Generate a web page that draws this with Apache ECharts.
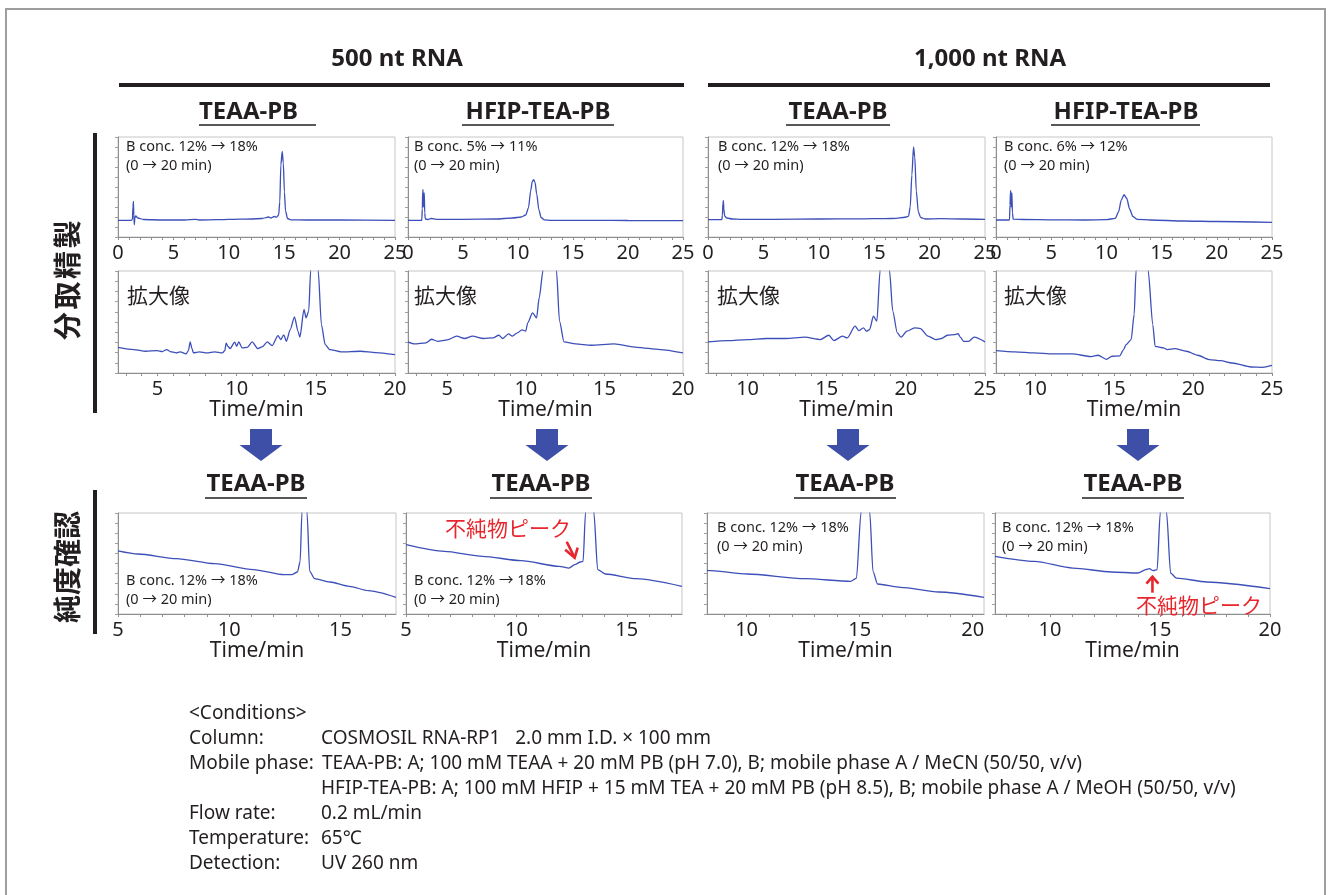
<!DOCTYPE html>
<html><head><meta charset="utf-8">
<script src="https://cdn.jsdelivr.net/npm/echarts@6/dist/echarts.min.js"></script>
<style>html,body{margin:0;padding:0;background:#fff}#c{width:1330px;height:895px}</style>
</head><body><div id="c"></div>
<script>
// ---------- titles / categories ----------
const sampleTitles = ['500 nt RNA', '1,000 nt RNA'];
const prepTitles = ['TEAA-PB', 'HFIP-TEA-PB', 'TEAA-PB', 'HFIP-TEA-PB'];
const purityTitles = ['TEAA-PB', 'TEAA-PB', 'TEAA-PB', 'TEAA-PB'];
const prepGradients = ['B conc. 12% \u2192 18%', 'B conc. 5% \u2192 11%', 'B conc. 12% \u2192 18%', 'B conc. 6% \u2192 12%'];
const purityGradient = 'B conc. 12% \u2192 18%';
const gradientTime = '(0 \u2192 20 min)';
const zoomLabel = '\u62e1\u5927\u50cf';
const impurityLabel = '\u4e0d\u7d14\u7269\u30d4\u30fc\u30af';
const rowLabels = ['\u5206\u53d6\u7cbe\u88fd', '\u7d14\u5ea6\u78ba\u8a8d'];
const conditionLines = [
  ['<Conditions>', ''],
  ['Column:', 'COSMOSIL RNA-RP1   2.0 mm I.D. \u00d7 100 mm'],
  ['Mobile phase:', 'TEAA-PB: A; 100 mM TEAA + 20 mM PB (pH 7.0), B; mobile phase A / MeCN (50/50, v/v)'],
  ['', 'HFIP-TEA-PB: A; 100 mM HFIP + 15 mM TEA + 20 mM PB (pH 8.5), B; mobile phase A / MeOH (50/50, v/v)'],
  ['Flow rate:', '0.2 mL/min'],
  ['Temperature:', '65\u2103'],
  ['Detection:', 'UV 260 nm']
];

// ---------- tick labels / ticks ----------
const row1Labels = [0, 5, 10, 15, 20, 25];
const row1Ticks = [0,1,2,3,4,5,6,7,8,9,10,11,12,13,14,15,16,17,18,19,20,21,22,23,24,25];
const row2aLabels = [5, 10, 15, 20];
const row2aTicks = [3,4,5,6,7,8,9,10,11,12,13,14,15,16,17,18,19,20];
const row2bLabels = [10, 15, 20, 25];
const row2bTicks = [8,9,10,11,12,13,14,15,16,17,18,19,20,21,22,23,24,25];
const row3aLabels = [5, 10, 15];
const row3aTicks = [5,6,7,8,9,10,11,12,13,14,15,16,17];
const row3bLabels = [10, 15, 20];
const row3bTicks = [9,10,11,12,13,14,15,16,17,18,19,20];
const row3cTicks = [8,9,10,11,12,13,14,15,16,17,18,19,20];

// ---------- chromatogram data [time/min, relative absorbance] ----------
const prep500TEAA = [[0,16.7],[1.2,16.7],[1.3,17.5],[1.35,30],[1.39,35.7],[1.43,22],[1.47,12.3],[1.52,19],[1.6,21],[1.8,19],[2.3,17.5],[4,17],[6,17],[7,17.6],[7.3,17],[9,17.3],[10,17.6],[11,17.8],[12,18],[13,18.5],[13.6,20],[13.8,19],[14.1,20.5],[14.3,19.8],[14.5,22],[14.6,35],[14.7,72],[14.82,85.7],[14.92,74],[15.02,45],[15.12,26],[15.3,18.5],[15.6,17.2],[17,17],[20,17],[25,16.7]];
const prep500HFIP = [[0,16.7],[1.25,16.7],[1.3,28],[1.34,46],[1.37,47.3],[1.4,30],[1.44,42],[1.48,44],[1.52,24],[1.58,18],[1.8,17.5],[2.1,18.5],[2.6,17.6],[5,17.6],[8,18],[9.5,19],[10.3,20],[10.7,22],[10.95,29],[11.15,46],[11.3,55.5],[11.42,57.3],[11.55,54.5],[11.7,43],[11.9,27],[12.1,19.5],[12.4,17.2],[13,16.7],[17,16.7],[20,16.5],[25,16.3]];
const prep1000TEAA = [[0,17.3],[1.25,17.3],[1.3,22],[1.35,34],[1.39,36.3],[1.43,28],[1.5,21],[1.7,19],[2.2,18],[3,17.6],[6,17.6],[10,18],[14,18.2],[16,18.4],[17,18.6],[17.6,19.5],[17.9,20],[18.1,20.8],[18.25,30],[18.4,62],[18.55,90],[18.66,80],[18.8,46],[18.98,25],[19.2,19.5],[19.6,18],[21,18.3],[23,18],[25,17.6]];
const prep1000HFIP = [[0,17],[1.22,17],[1.27,32],[1.31,45],[1.34,46.3],[1.37,30],[1.4,40],[1.44,44],[1.49,24],[1.56,17.8],[2.5,17.5],[5,17.2],[8,17],[10,17.3],[10.8,18.7],[11.1,25],[11.35,37],[11.6,42.3],[11.85,38.5],[12.1,28],[12.4,20.5],[12.8,17.6],[14,17],[17,16],[20,15.5],[25,14.7]];

const zoom500TEAA = [[2.5,25.2],[3.5,23],[4.25,21.3],[4.97,22],[5.3,21],[5.58,23],[5.8,21],[6.18,19.7],[6.43,20.7],[6.8,18.7],[6.95,22],[7.06,30.5],[7.17,24],[7.27,19.7],[7.64,20.7],[8.12,19.7],[8.6,20.7],[9.1,19.7],[9.25,22],[9.33,29.2],[9.45,26],[9.58,24],[9.87,30.2],[10.0,26.2],[10.13,30.5],[10.35,24.6],[10.67,25.2],[10.98,30.5],[11.32,24],[11.64,25.9],[11.93,30.5],[12.24,26.9],[12.61,36.7],[12.78,32.8],[12.97,37.4],[13.14,31.1],[13.38,42.6],[13.65,55.1],[13.87,41],[13.99,35.1],[14.25,62.3],[14.38,54.1],[14.55,60.7],[14.67,100],[14.9,220],[15.15,100],[15.35,47.5],[15.59,27.9],[15.88,23],[16.6,20.7],[17.82,21.3],[18.79,20],[20,18]];
const zoom500HFIP = [[2.5,30.5],[2.9,28.5],[3.65,29.5],[4.0,33.1],[4.38,31.1],[5.0,32.5],[5.6,36.1],[6.1,33.8],[6.6,36.1],[7.3,33.8],[7.9,34.4],[8.28,37],[8.53,33.8],[8.89,38.4],[9.14,36.1],[9.46,39.3],[9.75,42.3],[9.99,41],[10.12,49.2],[10.43,59],[10.68,54],[10.85,73.8],[11.09,100],[11.5,220],[11.95,100],[12.14,50.8],[12.43,30.5],[13.17,28.5],[14.14,27.2],[15.61,28.5],[17.07,25.2],[18.54,23],[20,19.7]];
const zoom1000TEAA = [[7.5,30.5],[8.76,31.8],[9.98,32.8],[11.19,33.8],[12.41,33.8],[13.63,35.1],[14.6,32.8],[15.13,37],[15.45,31.8],[16.0,36.1],[16.3,34.4],[16.79,45.9],[17.03,41.6],[17.32,44.3],[17.51,41],[17.71,42.6],[17.95,55.7],[18.17,50.8],[18.37,100],[18.65,230],[18.97,100],[19.17,60.7],[19.46,39.3],[19.7,35.1],[20.07,41],[20.55,44.3],[20.92,43.6],[21.4,36.1],[21.89,32.8],[22.25,33.8],[22.62,37],[23.1,37.7],[23.3,38.5],[23.45,35],[23.64,31.1],[23.96,31.1],[24.32,35.1],[25,30.5]];
const zoom1000HFIP = [[7.5,22],[8.71,20.7],[9.91,19.7],[11.12,18.7],[12.33,18.7],[13.53,16.1],[13.97,17.4],[14.5,13.4],[14.86,16.4],[15.34,16.7],[15.59,23],[15.75,27.9],[16.07,32.8],[16.26,57.4],[16.38,100],[16.75,230],[17.15,100],[17.44,47.5],[17.59,26.2],[18.12,24.6],[18.36,23],[18.84,23.9],[19.57,21.3],[20.29,17.4],[21.02,13.1],[21.74,12.1],[22.47,9.8],[23.67,5.9],[24.4,5.6],[25,7.5]];

const purity500TEAA = [[5,62.5],[5.9,59.4],[7.63,54.8],[9.35,49.8],[11.08,43.9],[12.46,38.9],[12.81,38.9],[13.07,41.6],[13.19,52.1],[13.27,100],[13.4,230],[13.5,100],[13.62,42.2],[13.84,35],[14.53,31.7],[15.4,27.4],[16.26,23.1],[17.5,16.5]];
const purity500HFIP = [[5,68.6],[6.74,62],[8.47,57.1],[10.21,52.8],[11.94,47.2],[12.38,45.5],[12.64,48.8],[12.9,51.5],[13.02,52.1],[13.13,100],[13.3,230],[13.51,100],[13.68,43.9],[14.03,39.6],[15.42,35],[17.5,27.4]];
const purity1000TEAA = [[8.25,43.2],[8.42,42.9],[10.03,39.6],[12.57,35],[14.6,32.3],[14.86,35.6],[15.06,100],[15.25,230],[15.45,100],[15.59,42.2],[15.79,29.7],[16.81,26.4],[18.5,21.8],[20.5,16.5]];
const purity1000HFIP = [[7.5,57.1],[9.29,52.1],[11.04,45.5],[12.78,41.6],[14.0,40.6],[14.35,43.9],[14.52,44.9],[14.69,42.9],[14.87,43.9],[15.01,100],[15.15,230],[15.3,100],[15.48,40.6],[15.74,35.6],[17.13,31.7],[20,25.1]];

// impurity points marked by red arrows [time, value]
const impurity500 = [12.64, 48.8];
const impurity1000 = [14.52, 44.9];

// ---------- layout ----------
const FONT = '"Noto Sans", "Noto Sans CJK JP", sans-serif';
const JFONT = '"Noto Sans CJK JP", "Noto Sans", sans-serif';
const TXT = '#231f20';
const LINE = '#3d4fb8';
const colsRow12 = [[118, 277], [408, 275], [708, 277], [996, 276]];
const colsRow3 = [[118, 278], [406, 276], [707, 277], [995, 275]];

const panels = [
  {col: colsRow12[0], top: 137, h: 100, min: 0, max: 25, labels: row1Labels, ticks: row1Ticks, data: prep500TEAA},
  {col: colsRow12[1], top: 137, h: 100, min: 0, max: 25, labels: row1Labels, ticks: row1Ticks, data: prep500HFIP},
  {col: colsRow12[2], top: 137, h: 100, min: 0, max: 25, labels: row1Labels, ticks: row1Ticks, data: prep1000TEAA},
  {col: colsRow12[3], top: 137, h: 100, min: 0, max: 25, labels: row1Labels, ticks: row1Ticks, data: prep1000HFIP},
  {col: colsRow12[0], top: 271, h: 102, min: 2.5, max: 20, labels: row2aLabels, ticks: row2aTicks, data: zoom500TEAA, time: true},
  {col: colsRow12[1], top: 271, h: 102, min: 2.5, max: 20, labels: row2aLabels, ticks: row2aTicks, data: zoom500HFIP, time: true},
  {col: colsRow12[2], top: 271, h: 102, min: 7.5, max: 25, labels: row2bLabels, ticks: row2bTicks, data: zoom1000TEAA, time: true},
  {col: colsRow12[3], top: 271, h: 102, min: 7.5, max: 25, labels: row2bLabels, ticks: row2bTicks, data: zoom1000HFIP, time: true},
  {col: colsRow3[0], top: 513, h: 101, min: 5, max: 17.5, labels: row3aLabels, ticks: row3aTicks, data: purity500TEAA, time: true},
  {col: colsRow3[1], top: 513, h: 101, min: 5, max: 17.5, labels: row3aLabels, ticks: row3aTicks, data: purity500HFIP, time: true},
  {col: colsRow3[2], top: 513, h: 101, min: 8.25, max: 20.5, labels: row3bLabels, ticks: row3bTicks, data: purity1000TEAA, time: true},
  {col: colsRow3[3], top: 513, h: 101, min: 7.5, max: 20, labels: row3bLabels, ticks: row3cTicks, data: purity1000HFIP, time: true}
];

const grid = [], xAxis = [], yAxis = [], series = [];
panels.forEach((p, i) => {
  grid.push({left: p.col[0], top: p.top, width: p.col[1], height: p.h, show: true,
    borderColor: '#c6c6c6', borderWidth: 1, backgroundColor: 'transparent'});
  const xa = {
    type: 'value', gridIndex: i, min: p.min, max: p.max,
    axisLine: {show: true, onZero: false, lineStyle: {color: '#8f8f8f', width: 1}},
    axisTick: {show: true, inside: false, length: 3, customValues: p.ticks, lineStyle: {color: '#8f8f8f', width: 1}},
    axisLabel: {show: true, customValues: p.labels, color: TXT, fontSize: 20, fontFamily: FONT, margin: 6,
      showMinLabel: true, showMaxLabel: true, hideOverlap: false},
    splitLine: {show: false}
  };
  if (p.time) {
    xa.name = 'Time/min';
    xa.nameLocation = 'middle';
    xa.nameGap = 23;
    xa.nameTextStyle = {color: TXT, fontSize: 21, fontFamily: FONT};
  }
  xAxis.push(xa);
  yAxis.push({type: 'value', gridIndex: i, min: 0, max: 100, interval: 10,
    axisLine: {show: true, onZero: false, lineStyle: {color: '#8f8f8f', width: 1}},
    axisTick: {show: true, length: 3, lineStyle: {color: '#a0a0a0', width: 1}},
    axisLabel: {show: false}, splitLine: {show: false}});
  series.push({type: 'line', xAxisIndex: i, yAxisIndex: i, data: p.data, showSymbol: false, symbol: 'none',
    smooth: 0.25, smoothMonotone: 'x', clip: true,
    lineStyle: {color: LINE, width: 1.3}, silent: true});
});

const chart = echarts.init(document.getElementById('c'), null, {renderer: 'canvas'});
chart.setOption({animation: false, backgroundColor: '#ffffff', grid, xAxis, yAxis, series});

// ---------- decorations ----------
function txt(x, y, s, font, opts) {
  opts = opts || {};
  return {type: 'text', x: x, y: y, rotation: opts.rot || 0, z: 10,
    style: {text: s, font: font, fill: opts.fill || TXT,
      align: opts.align || 'left', textAlign: opts.align || 'left',
      verticalAlign: 'middle', textVerticalAlign: 'middle'}};
}
function ln(x1, y1, x2, y2, w, c) {
  return {type: 'line', z: 10, shape: {x1, y1, x2, y2}, style: {stroke: c || TXT, lineWidth: w}};
}
const g = [];
// outer frame
g.push({type: 'rect', z: 0, shape: {x: 6, y: 9, width: 1319, height: 900}, style: {fill: 'none', stroke: '#9e9e9e', lineWidth: 2}});
// sample titles and thick rules
const HFONT = 'bold 24px ' + FONT;
g.push(txt(397, 59, sampleTitles[0], HFONT, {align: 'center'}));
g.push(txt(990, 59, sampleTitles[1], HFONT, {align: 'center'}));
g.push(ln(119, 85, 684, 85, 4));
g.push(ln(708, 85, 1270, 85, 4));
// preparative method titles (row 1)
g.push(txt(199, 112, prepTitles[0], HFONT, {align: 'left'}));
g.push(ln(199, 125, 316, 125, 1.6));
const prepCenters = [null, 538, 838, 1126];
const prepUnder = [null, [462, 614], [786, 890], [1051, 1200]];
for (let i = 1; i < 4; i++) {
  g.push(txt(prepCenters[i], 112, prepTitles[i], HFONT, {align: 'center'}));
  g.push(ln(prepUnder[i][0], 125, prepUnder[i][1], 125, 1.6));
}
// purity titles (row 3)
const purCenters = [256, 541, 845, 1133];
purCenters.forEach((c, i) => {
  g.push(txt(c, 484, purityTitles[i], HFONT, {align: 'center'}));
  g.push(ln(c - 51, 498, c + 51, 498, 1.6));
});
// blue block arrows
[261, 547, 848, 1138].forEach(cx => {
  g.push({type: 'polygon', z: 10, shape: {points: [[cx - 11, 429], [cx + 11, 429], [cx + 11, 445], [cx + 21.5, 445], [cx, 461], [cx - 21.5, 445], [cx - 11, 445]]},
    style: {fill: '#3d4fa6'}});
});
// left row labels and bars
g.push(ln(95, 133, 95, 413, 4));
g.push(ln(95, 490, 95, 634, 4));
const LFONT = 'bold 28px ' + JFONT;
const lab1 = rowLabels[0].split('');
lab1.forEach((ch, k) => g.push(txt(67, 326 - k * 30.5, ch, LFONT, {align: 'center', rot: Math.PI / 2})));
const lab2 = rowLabels[1].split('');
lab2.forEach((ch, k) => g.push(txt(67, 609 - k * 28, ch, LFONT, {align: 'center', rot: Math.PI / 2})));
// panel annotations
const SFONT = '14.5px ' + FONT;
[126, 414, 718, 1004].forEach((x, i) => {
  g.push(txt(x, 147, prepGradients[i], SFONT));
  g.push(txt(x, 166, gradientTime, SFONT));
});
const ZFONT = '21px ' + JFONT;
[127, 414, 717, 1004].forEach(x => g.push(txt(x, 295, zoomLabel, ZFONT)));
[[126, 581], [414, 581], [717, 528], [1002, 528]].forEach(p => {
  g.push(txt(p[0], p[1], purityGradient, SFONT));
  g.push(txt(p[0], p[1] + 19, gradientTime, SFONT));
});
// red impurity labels + arrows
const RED = '#e8262d';
g.push(txt(445, 528, impurityLabel, ZFONT, {fill: RED}));
g.push(txt(1136, 605, impurityLabel, ZFONT, {fill: RED}));
const p1 = chart.convertToPixel({gridIndex: 9}, impurity500);
const tip1 = [p1[0], p1[1] - 7];
g.push({type: 'polyline', z: 11, shape: {points: [[tip1[0] - 8, tip1[1] - 16], tip1]}, style: {stroke: RED, lineWidth: 2.6, fill: null}});
g.push({type: 'polyline', z: 11, shape: {points: [[tip1[0] - 9.5, tip1[1] - 8], tip1, [tip1[0] + 3, tip1[1] - 10]]}, style: {stroke: RED, lineWidth: 2.6, fill: null}});
const p2 = chart.convertToPixel({gridIndex: 11}, impurity1000);
const tip2 = [p2[0] + 3, p2[1] + 8];
g.push({type: 'polyline', z: 11, shape: {points: [[tip2[0], tip2[1] + 16], tip2]}, style: {stroke: RED, lineWidth: 2.6, fill: null}});
g.push({type: 'polyline', z: 11, shape: {points: [[tip2[0] - 6, tip2[1] + 7], tip2, [tip2[0] + 6, tip2[1] + 7]]}, style: {stroke: RED, lineWidth: 2.6, fill: null}});
// conditions
const CFONT = '19px ' + FONT;
const condY = [714, 739, 764, 789, 814, 839, 864];
conditionLines.forEach((row, i) => {
  if (row[0]) g.push(txt(189, condY[i], row[0], CFONT));
  if (row[1]) g.push(txt(i === 2 ? 322 : 321, condY[i], row[1], CFONT));
});

chart.setOption({graphic: {elements: g}});
</script>
</body></html>
